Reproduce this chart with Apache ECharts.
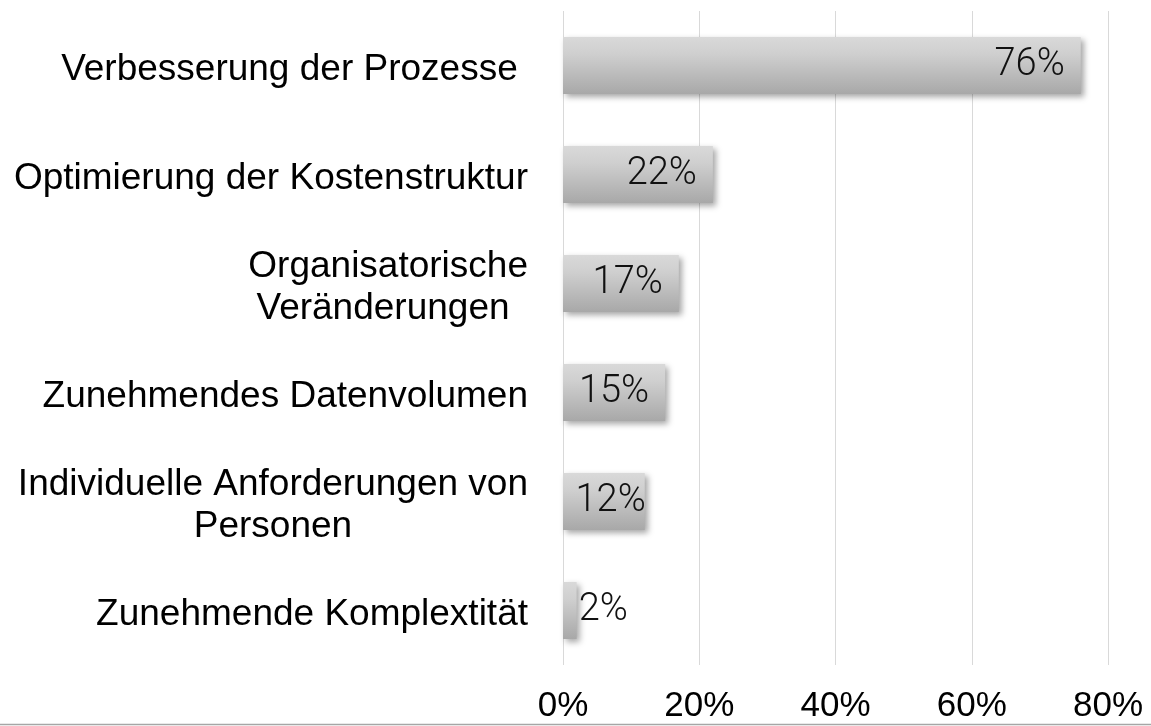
<!DOCTYPE html>
<html>
<head>
<meta charset="utf-8">
<script src="https://cdn.jsdelivr.net/npm/echarts@6/dist/echarts.min.js"></script>
<style>
html,body{margin:0;padding:0;background:#fff;}
#chart{width:1151px;height:726px;}
</style>
</head>
<body>
<div id="chart"></div>
<script>
const categories = [
  "Verbesserung der Prozesse ",
  "Optimierung der Kostenstruktur",
  "Organisatorische\nVeränderungen ",
  "Zunehmendes Datenvolumen",
  "Individuelle Anforderungen von\nPersonen",
  "Zunehmende Komplextität"
];
const values = [76, 22, 17, 15, 12, 2];
const xTicks = { min: 0, max: 80, interval: 20 };

const chart = echarts.init(document.getElementById('chart'), null, { renderer: 'canvas' });

const barData = values.map(v => {
  if (v < 5) return { value: v, label: { position: 'right', distance: 2 } };
  if (v < 14) return { value: v, label: { distance: -1 } };
  return v;
});

chart.setOption({
  animation: false,
  backgroundColor: '#ffffff',
  grid: { left: 563, right: 43, top: 11, bottom: 61, containLabel: false },
  xAxis: {
    type: 'value',
    min: xTicks.min, max: xTicks.max, interval: xTicks.interval,
    axisLine: { show: false },
    axisTick: { show: false },
    splitLine: { show: true, lineStyle: { color: '#d9d9d9', width: 1 } },
    axisLabel: {
      formatter: '{value}%',
      color: '#000',
      fontFamily: '"Liberation Sans", Arial, sans-serif',
      fontSize: 35,
      margin: 24
    }
  },
  yAxis: {
    type: 'category',
    inverse: true,
    data: categories,
    axisLine: { show: false },
    axisTick: { show: false },
    splitLine: { show: false },
    axisLabel: {
      margin: 35,
      align: 'right',
      color: '#000',
      fontFamily: '"Liberation Sans", Arial, sans-serif',
      fontSize: 37,
      lineHeight: 42,
      padding: [8, 0, 0, 0],
      formatter: function (v) {
        return v.split('\n').map(l => '{c|' + l + '}').join('\n');
      },
      rich: {
        c: {
          align: 'center',
          color: '#000',
          fontFamily: '"Liberation Sans", Arial, sans-serif',
          fontSize: 37,
          lineHeight: 42
        }
      }
    }
  },
  series: [{
    type: 'bar',
    data: barData,
    barWidth: 57,
    itemStyle: {
      color: new echarts.graphic.LinearGradient(0, 0, 0, 1, [
        { offset: 0, color: '#d9d9d9' },
        { offset: 0.3, color: '#cfcfcf' },
        { offset: 1, color: '#a8a8a8' }
      ]),
      shadowColor: 'rgba(0,0,0,0.35)',
      shadowBlur: 6,
      shadowOffsetX: 3,
      shadowOffsetY: 3
    },
    label: {
      show: true,
      position: 'insideRight',
      distance: 16,
      formatter: '{c}%',
      color: '#111',
      fontFamily: 'Roboto, "Open Sans", sans-serif',
      fontWeight: 300,
      fontSize: 38
    }
  }],
  graphic: [{
    type: 'line',
    silent: true,
    shape: { x1: 0, y1: 724.5, x2: 1151, y2: 724.5 },
    style: { stroke: '#a6a6a6', lineWidth: 1.5 }
  }]
});
</script>
</body>
</html>
